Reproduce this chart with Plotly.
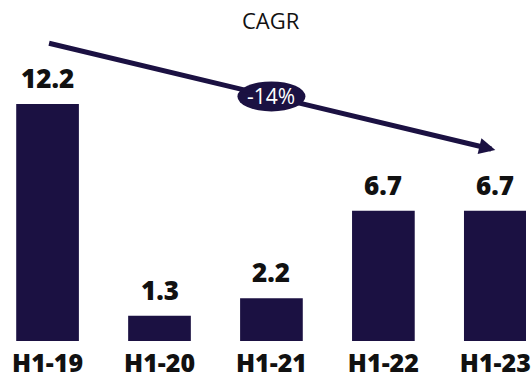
import plotly.graph_objects as go

categories = ["H1-19", "H1-20", "H1-21", "H1-22", "H1-23"]
values = [12.2, 1.3, 2.2, 6.7, 6.7]
value_labels = ["12.2", "1.3", "2.2", "6.7", "6.7"]
cagr_label = "-14%"
title_text = "CAGR"

BAR = "#1b1142"
TXT = "#111111"
FONT = "Open Sans"

x_idx = list(range(len(categories)))

fig = go.Figure()
fig.add_trace(go.Bar(
    x=x_idx, y=values, width=0.56,
    marker=dict(color=BAR, line=dict(width=0)),
    hoverinfo="skip",
))

# value labels above bars
for xi, v, lab in zip(x_idx, values, value_labels):
    fig.add_annotation(
        x=xi, y=v, text=lab, showarrow=False,
        xref="x", yref="y", yanchor="bottom", yshift=6,
        font=dict(family=FONT, size=26, color=TXT, weight=800),
    )

# CAGR arrow from first to last category
y_start = 15.34
y_end = 9.83
fig.add_annotation(
    x=x_idx[-1], y=y_end, ax=x_idx[0], ay=y_start,
    xref="x", yref="y", axref="x", ayref="y",
    text="", showarrow=True, arrowhead=2, arrowsize=0.65,
    arrowwidth=5, arrowcolor=BAR, standoff=0,
)

mid_x = x_idx[len(x_idx) // 2]
mid_y = (y_start + y_end) / 2
fig.add_shape(
    type="circle", xref="x", yref="y",
    xsizemode="pixel", ysizemode="pixel",
    xanchor=mid_x, yanchor=mid_y,
    x0=-34, x1=34, y0=-15, y1=15,
    fillcolor=BAR, line=dict(width=0),
)
fig.add_annotation(
    x=mid_x, y=mid_y, xref="x", yref="y", text=cagr_label, showarrow=False,
    font=dict(family=FONT, size=21, color="white", weight=400),
)

fig.add_annotation(
    x=mid_x, y=0.941, xref="x", yref="paper", text=title_text, showarrow=False,
    yanchor="middle",
    font=dict(family=FONT, size=22, color=TXT, weight=400),
)

fig.update_layout(
    width=531, height=381,
    margin=dict(l=0, r=0, t=0, b=40),
    paper_bgcolor="white", plot_bgcolor="white",
    showlegend=False,
    xaxis=dict(
        range=[-0.4248, 4.274], tickmode="array", tickvals=x_idx,
        ticktext=categories,
        tickfont=dict(family=FONT, size=25, color=TXT, weight=800),
        showgrid=False, zeroline=False, showline=False, ticks="",
        ticklabelstandoff=5, ticklabeloverflow="allow",
    ),
    yaxis=dict(range=[0, 17.55], visible=False, showgrid=False, zeroline=False),
)

fig.write_html("out.html")
